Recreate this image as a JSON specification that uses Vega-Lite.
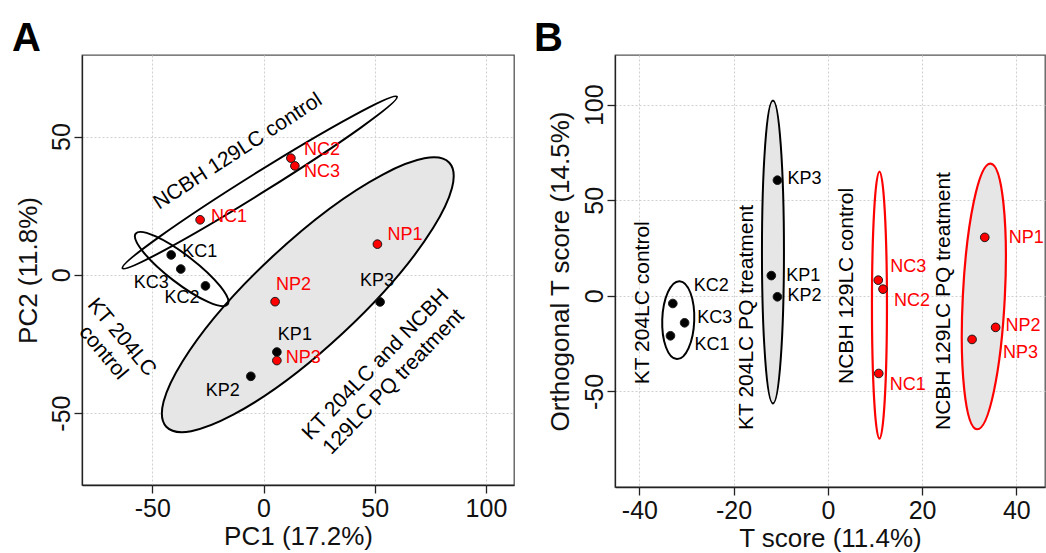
{
  "$schema": "https://vega.github.io/schema/vega-lite/v6.json",
  "padding": {"left": 11, "top": 18, "right": 0, "bottom": 0},
  "spacing": 18,
  "datasets": {
    "pts": [
      {"panel": "A", "name": "KC1", "group": "KT", "x": -41.5, "y": 7.2},
      {"panel": "A", "name": "KC2", "group": "KT", "x": -26.1, "y": -4.0},
      {"panel": "A", "name": "KC3", "group": "KT", "x": -37.2, "y": 2.1},
      {"panel": "A", "name": "KP1", "group": "KT", "x": 6.0, "y": -27.9},
      {"panel": "A", "name": "KP2", "group": "KT", "x": -5.7, "y": -36.7},
      {"panel": "A", "name": "KP3", "group": "KT", "x": 52.4, "y": -9.8},
      {"panel": "A", "name": "NC1", "group": "NCBH", "x": -28.5, "y": 19.9},
      {"panel": "A", "name": "NC2", "group": "NCBH", "x": 12.3, "y": 42.2},
      {"panel": "A", "name": "NC3", "group": "NCBH", "x": 14.1, "y": 39.4},
      {"panel": "A", "name": "NP1", "group": "NCBH", "x": 51.2, "y": 11.1},
      {"panel": "A", "name": "NP2", "group": "NCBH", "x": 5.2, "y": -9.7},
      {"panel": "A", "name": "NP3", "group": "NCBH", "x": 6.0, "y": -31.0},
      {"panel": "B", "name": "KC1", "group": "KT", "x": -33.4, "y": -20.9},
      {"panel": "B", "name": "KC2", "group": "KT", "x": -32.9, "y": -4.0},
      {"panel": "B", "name": "KC3", "group": "KT", "x": -30.4, "y": -14.1},
      {"panel": "B", "name": "KP1", "group": "KT", "x": -12.0, "y": 10.6},
      {"panel": "B", "name": "KP2", "group": "KT", "x": -10.7, "y": -0.5},
      {"panel": "B", "name": "KP3", "group": "KT", "x": -10.7, "y": 60.5},
      {"panel": "B", "name": "NC1", "group": "NCBH", "x": 10.8, "y": -40.6},
      {"panel": "B", "name": "NC2", "group": "NCBH", "x": 11.7, "y": 3.5},
      {"panel": "B", "name": "NC3", "group": "NCBH", "x": 10.7, "y": 8.2},
      {"panel": "B", "name": "NP1", "group": "NCBH", "x": 33.3, "y": 30.6},
      {"panel": "B", "name": "NP2", "group": "NCBH", "x": 35.6, "y": -16.5},
      {"panel": "B", "name": "NP3", "group": "NCBH", "x": 30.6, "y": -22.8}
    ],
    "ell": [
      {"panel": "A", "id": "NC", "x": -1.7, "y": 33.4},
      {"panel": "A", "id": "KC", "x": -36.8, "y": 2.1},
      {"panel": "A", "id": "KPNP", "x": 19.9, "y": -7.2},
      {"panel": "B", "id": "KC", "x": -31.75, "y": -12.7},
      {"panel": "B", "id": "KP", "x": -11.65, "y": 23.0},
      {"panel": "B", "id": "NC", "x": 10.95, "y": -4.9},
      {"panel": "B", "id": "NP", "x": 33.1, "y": -0.3}
    ],
    "ann": [
      {"panel": "A", "id": "NC", "text": "NCBH 129LC control", "x": -11.5, "y": 44.6},
      {"panel": "A", "id": "KC", "text": "KT 204LC\ncontrol", "x": -63.8, "y": -22.6},
      {"panel": "A", "id": "KPNP", "text": "KT 204LC and NCBH\n129LC PQ treatment", "x": 50.5, "y": -32.5},
      {"panel": "B", "id": "KC", "text": "KT 204LC control", "x": -39.2, "y": -3.6},
      {"panel": "B", "id": "KP", "text": "KT 204LC PQ treatment", "x": -17.1, "y": -11.3},
      {"panel": "B", "id": "NC", "text": "NCBH 129LC control", "x": 4.1, "y": 5.2},
      {"panel": "B", "id": "NP", "text": "NCBH 129LC PQ treatment", "x": 24.6, "y": -2.7}
    ]
  },
  "config": {
    "font": "Liberation Sans",
    "view": {"stroke": "#555", "strokeWidth": 1.3},
    "axis": {
      "domainColor": "#222", "domainWidth": 1.3, "tickColor": "#222", "tickWidth": 1.3, "tickSize": 8,
      "labelFontSize": 25, "labelColor": "#111", "labelFont": "Liberation Sans",
      "labelExpr": "replace(datum.label, '−', '-')",
      "titleFont": "Liberation Sans", "titleFontSize": 26, "titleFontWeight": "normal", "titleColor": "#111",
      "grid": true, "gridColor": "#cfcfcf", "gridDash": [2, 2], "gridWidth": 1,
      "labelFlush": false, "labelOverlap": false
    },
    "axisX": {"labelPadding": 3, "titlePadding": 2},
    "axisY": {"labelAngle": 270, "labelAlign": "center", "labelBaseline": "alphabetic", "labelPadding": 5}
  },
  "hconcat": [
    {
      "width": 432,
      "height": 430,
      "title": {"text": "A", "anchor": "start", "frame": "group", "dx": -70, "offset": -36, "fontSize": 40, "fontWeight": "bold", "baseline": "alphabetic", "font": "Liberation Sans", "color": "#000"},
      "encoding": {
        "x": {"field": "x", "type": "quantitative", "scale": {"domain": [-81.6, 112.6], "nice": false, "zero": false}, "axis": {"title": "PC1 (17.2%)", "values": [-50, 0, 50, 100]}},
        "y": {"field": "y", "type": "quantitative", "scale": {"domain": [-76.0, 79.5], "nice": false, "zero": false}, "axis": {"title": "PC2 (11.8%)", "values": [-50, 0, 50], "titlePadding": 8}}
      },
      "layer": [
        {"data": {"name": "ell"}, "transform": [{"filter": "datum.panel=='A' && datum.id=='KPNP'"}],
         "mark": {"type": "point", "shape": "M193.5,0C193.5,28.7,106.9,52,0,52C-106.9,52,-193.5,28.7,-193.5,0C-193.5,-28.7,-106.9,-52,0,-52C106.9,-52,193.5,-28.7,193.5,0Z", "size": 4, "angle": 317, "filled": true, "fill": "#e6e6e6", "stroke": "#000", "strokeWidth": 2, "opacity": 1}},
        {"data": {"name": "ell"}, "transform": [{"filter": "datum.panel=='A' && datum.id=='KC'"}],
         "mark": {"type": "point", "shape": "M58,0C58,7.73,32,14,0,14C-32,14,-58,7.73,-58,0C-58,-7.73,-32,-14,0,-14C32,-14,58,-7.73,58,0Z", "size": 4, "angle": 37.6, "filled": false, "stroke": "#000", "strokeWidth": 2, "opacity": 1}},
        {"data": {"name": "ell"}, "transform": [{"filter": "datum.panel=='A' && datum.id=='NC'"}],
         "mark": {"type": "point", "shape": "M161.8,0C161.8,5.52,89.4,10,0,10C-89.4,10,-161.8,5.52,-161.8,0C-161.8,-5.52,-89.4,-10,0,-10C89.4,-10,161.8,-5.52,161.8,0Z", "size": 4, "angle": 328, "filled": false, "stroke": "#000", "strokeWidth": 2, "opacity": 1}},
        {"data": {"name": "pts"}, "transform": [{"filter": "datum.panel=='A'"}],
         "mark": {"type": "point", "filled": true, "size": 75, "stroke": "#1a1a1a", "strokeWidth": 1, "opacity": 1},
         "encoding": {"color": {"field": "group", "type": "nominal", "scale": {"domain": ["KT", "NCBH"], "range": ["#000000", "#ff0000"]}, "legend": null}}},
        {"data": {"name": "pts"}, "transform": [{"filter": "datum.panel=='A' && indexof(['NC1','KC1'], datum.name) >= 0"}],
         "mark": {"type": "text", "align": "left", "baseline": "middle", "dx": 11, "dy": -3, "fontSize": 18},
         "encoding": {"text": {"field": "name"}, "color": {"field": "group", "type": "nominal", "legend": null}}},
        {"data": {"name": "pts"}, "transform": [{"filter": "datum.panel=='A' && datum.name=='NC2'"}],
         "mark": {"type": "text", "align": "left", "baseline": "middle", "dx": 13, "dy": -8, "fontSize": 18},
         "encoding": {"text": {"field": "name"}, "color": {"field": "group", "type": "nominal", "legend": null}}},
        {"data": {"name": "pts"}, "transform": [{"filter": "datum.panel=='A' && datum.name=='NC3'"}],
         "mark": {"type": "text", "align": "left", "baseline": "middle", "dx": 9, "dy": 6.5, "fontSize": 18},
         "encoding": {"text": {"field": "name"}, "color": {"field": "group", "type": "nominal", "legend": null}}},
        {"data": {"name": "pts"}, "transform": [{"filter": "datum.panel=='A' && datum.name=='NP1'"}],
         "mark": {"type": "text", "align": "left", "baseline": "middle", "dx": 10, "dy": -9, "fontSize": 18},
         "encoding": {"text": {"field": "name"}, "color": {"field": "group", "type": "nominal", "legend": null}}},
        {"data": {"name": "pts"}, "transform": [{"filter": "datum.panel=='A' && datum.name=='KC3'"}],
         "mark": {"type": "text", "align": "right", "baseline": "middle", "dx": -12, "dy": 13.5, "fontSize": 18},
         "encoding": {"text": {"field": "name"}, "color": {"field": "group", "type": "nominal", "legend": null}}},
        {"data": {"name": "pts"}, "transform": [{"filter": "datum.panel=='A' && datum.name=='KC2'"}],
         "mark": {"type": "text", "align": "right", "baseline": "middle", "dx": -6, "dy": 12, "fontSize": 18},
         "encoding": {"text": {"field": "name"}, "color": {"field": "group", "type": "nominal", "legend": null}}},
        {"data": {"name": "pts"}, "transform": [{"filter": "datum.panel=='A' && indexof(['NP2','KP1'], datum.name) >= 0"}],
         "mark": {"type": "text", "align": "left", "baseline": "middle", "dx": 1, "dy": -17, "fontSize": 18},
         "encoding": {"text": {"field": "name"}, "color": {"field": "group", "type": "nominal", "legend": null}}},
        {"data": {"name": "pts"}, "transform": [{"filter": "datum.panel=='A' && datum.name=='KP3'"}],
         "mark": {"type": "text", "align": "center", "baseline": "middle", "dx": -3, "dy": -21, "fontSize": 18},
         "encoding": {"text": {"field": "name"}, "color": {"field": "group", "type": "nominal", "legend": null}}},
        {"data": {"name": "pts"}, "transform": [{"filter": "datum.panel=='A' && datum.name=='NP3'"}],
         "mark": {"type": "text", "align": "left", "baseline": "middle", "dx": 9, "dy": -3, "fontSize": 18},
         "encoding": {"text": {"field": "name"}, "color": {"field": "group", "type": "nominal", "legend": null}}},
        {"data": {"name": "pts"}, "transform": [{"filter": "datum.panel=='A' && datum.name=='KP2'"}],
         "mark": {"type": "text", "align": "right", "baseline": "middle", "dx": -11, "dy": 15, "fontSize": 18},
         "encoding": {"text": {"field": "name"}, "color": {"field": "group", "type": "nominal", "legend": null}}},
        {"data": {"name": "ann"}, "transform": [{"filter": "datum.panel=='A' && datum.id=='NC'"}],
         "mark": {"type": "text", "align": "center", "baseline": "middle", "angle": 327, "fontSize": 21, "color": "#000"},
         "encoding": {"text": {"field": "text"}}},
        {"data": {"name": "ann"}, "transform": [{"filter": "datum.panel=='A' && datum.id=='KC'"}],
         "mark": {"type": "text", "align": "center", "baseline": "middle", "angle": 50, "fontSize": 21, "lineHeight": 24, "lineBreak": "\n", "color": "#000"},
         "encoding": {"text": {"field": "text"}}},
        {"data": {"name": "ann"}, "transform": [{"filter": "datum.panel=='A' && datum.id=='KPNP'"}],
         "mark": {"type": "text", "align": "center", "baseline": "middle", "angle": 314, "fontSize": 21, "lineHeight": 25, "lineBreak": "\n", "color": "#000"},
         "encoding": {"text": {"field": "text"}}}
      ]
    },
    {
      "width": 430,
      "height": 432,
      "title": {"text": "B", "anchor": "start", "frame": "group", "dx": -81, "offset": -36, "fontSize": 40, "fontWeight": "bold", "baseline": "alphabetic", "font": "Liberation Sans", "color": "#000"},
      "encoding": {
        "x": {"field": "x", "type": "quantitative", "scale": {"domain": [-45.17, 46.08], "nice": false, "zero": false}, "axis": {"title": "T score (11.4%)", "values": [-40, -20, 0, 20, 40]}},
        "y": {"field": "y", "type": "quantitative", "scale": {"domain": [-100, 126], "nice": false, "zero": false}, "axis": {"title": "Orthogonal T score (14.5%)", "values": [-50, 0, 50, 100], "titlePadding": 9}}
      },
      "layer": [
        {"data": {"name": "ell"}, "transform": [{"filter": "datum.panel=='B' && datum.id=='KC'"}],
         "mark": {"type": "point", "shape": "M39,0C39,8.84,21.5,16,0,16C-21.5,16,-39,8.84,-39,0C-39,-8.84,-21.5,-16,0,-16C21.5,-16,39,-8.84,39,0Z", "size": 4, "angle": 92, "filled": false, "stroke": "#000", "strokeWidth": 2, "opacity": 1}},
        {"data": {"name": "ell"}, "transform": [{"filter": "datum.panel=='B' && datum.id=='KP'"}],
         "mark": {"type": "point", "shape": "M151.5,0C151.5,6.08,83.7,11,0,11C-83.7,11,-151.5,6.08,-151.5,0C-151.5,-6.08,-83.7,-11,0,-11C83.7,-11,151.5,-6.08,151.5,0Z", "size": 4, "angle": 90, "filled": true, "fill": "#e6e6e6", "stroke": "#000", "strokeWidth": 2, "opacity": 1}},
        {"data": {"name": "ell"}, "transform": [{"filter": "datum.panel=='B' && datum.id=='NC'"}],
         "mark": {"type": "point", "shape": "M133.5,0C133.5,4.14,73.7,7.5,0,7.5C-73.7,7.5,-133.5,4.14,-133.5,0C-133.5,-4.14,-73.7,-7.5,0,-7.5C73.7,-7.5,133.5,-4.14,133.5,0Z", "size": 4, "angle": 90, "filled": false, "stroke": "#ff0000", "strokeWidth": 2.2, "opacity": 1}},
        {"data": {"name": "ell"}, "transform": [{"filter": "datum.panel=='B' && datum.id=='NP'"}],
         "mark": {"type": "point", "shape": "M133,0C133,11.6,73.5,21,0,21C-73.5,21,-133,11.6,-133,0C-133,-11.6,-73.5,-21,0,-21C73.5,-21,133,-11.6,133,0Z", "size": 4, "angle": 92.9, "filled": true, "fill": "#e6e6e6", "stroke": "#ff0000", "strokeWidth": 2.2, "opacity": 1}},
        {"data": {"name": "pts"}, "transform": [{"filter": "datum.panel=='B'"}],
         "mark": {"type": "point", "filled": true, "size": 75, "stroke": "#1a1a1a", "strokeWidth": 1, "opacity": 1},
         "encoding": {"color": {"field": "group", "type": "nominal", "scale": {"domain": ["KT", "NCBH"], "range": ["#000000", "#ff0000"]}, "legend": null}}},
        {"data": {"name": "pts"}, "transform": [{"filter": "datum.panel=='B' && indexof(['KP3','KP2','NP2'], datum.name) >= 0"}],
         "mark": {"type": "text", "align": "left", "baseline": "middle", "dx": 10, "dy": -1, "fontSize": 18},
         "encoding": {"text": {"field": "name"}, "color": {"field": "group", "type": "nominal", "legend": null}}},
        {"data": {"name": "pts"}, "transform": [{"filter": "datum.panel=='B' && datum.name=='KP1'"}],
         "mark": {"type": "text", "align": "left", "baseline": "middle", "dx": 15, "dy": 0, "fontSize": 18},
         "encoding": {"text": {"field": "name"}, "color": {"field": "group", "type": "nominal", "legend": null}}},
        {"data": {"name": "pts"}, "transform": [{"filter": "datum.panel=='B' && datum.name=='KC2'"}],
         "mark": {"type": "text", "align": "left", "baseline": "middle", "dx": 21, "dy": -17, "fontSize": 18},
         "encoding": {"text": {"field": "name"}, "color": {"field": "group", "type": "nominal", "legend": null}}},
        {"data": {"name": "pts"}, "transform": [{"filter": "datum.panel=='B' && datum.name=='KC3'"}],
         "mark": {"type": "text", "align": "left", "baseline": "middle", "dx": 12.6, "dy": -5, "fontSize": 18},
         "encoding": {"text": {"field": "name"}, "color": {"field": "group", "type": "nominal", "legend": null}}},
        {"data": {"name": "pts"}, "transform": [{"filter": "datum.panel=='B' && datum.name=='KC1'"}],
         "mark": {"type": "text", "align": "left", "baseline": "middle", "dx": 24, "dy": 9, "fontSize": 18},
         "encoding": {"text": {"field": "name"}, "color": {"field": "group", "type": "nominal", "legend": null}}},
        {"data": {"name": "pts"}, "transform": [{"filter": "datum.panel=='B' && datum.name=='NC3'"}],
         "mark": {"type": "text", "align": "left", "baseline": "middle", "dx": 12, "dy": -13, "fontSize": 18},
         "encoding": {"text": {"field": "name"}, "color": {"field": "group", "type": "nominal", "legend": null}}},
        {"data": {"name": "pts"}, "transform": [{"filter": "datum.panel=='B' && indexof(['NC2','NC1'], datum.name) >= 0"}],
         "mark": {"type": "text", "align": "left", "baseline": "middle", "dx": 11, "dy": 12, "fontSize": 18},
         "encoding": {"text": {"field": "name"}, "color": {"field": "group", "type": "nominal", "legend": null}}},
        {"data": {"name": "pts"}, "transform": [{"filter": "datum.panel=='B' && datum.name=='NP1'"}],
         "mark": {"type": "text", "align": "left", "baseline": "middle", "dx": 24, "dy": 0.5, "fontSize": 18},
         "encoding": {"text": {"field": "name"}, "color": {"field": "group", "type": "nominal", "legend": null}}},
        {"data": {"name": "pts"}, "transform": [{"filter": "datum.panel=='B' && datum.name=='NP3'"}],
         "mark": {"type": "text", "align": "left", "baseline": "middle", "dx": 31, "dy": 14, "fontSize": 18},
         "encoding": {"text": {"field": "name"}, "color": {"field": "group", "type": "nominal", "legend": null}}},
        {"data": {"name": "ann"}, "transform": [{"filter": "datum.panel=='B'"}],
         "mark": {"type": "text", "align": "center", "baseline": "middle", "angle": 270, "fontSize": 21, "color": "#000"},
         "encoding": {"text": {"field": "text"}}}
      ]
    }
  ]
}
